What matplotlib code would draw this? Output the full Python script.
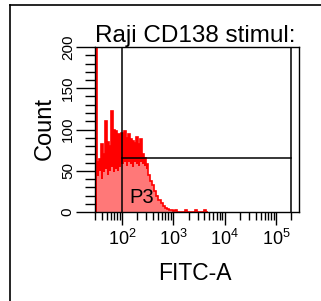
import numpy as np
import matplotlib
matplotlib.use("Agg")
import matplotlib.pyplot as plt
from matplotlib.ticker import FixedLocator, LogLocator, NullFormatter, MultipleLocator
from matplotlib.lines import Line2D

plt.rcParams['font.family'] = ['Liberation Sans', 'DejaVu Sans']
plt.rcParams['mathtext.fontset'] = 'custom'
plt.rcParams['mathtext.rm'] = 'Liberation Sans'
plt.rcParams['mathtext.it'] = 'Liberation Sans'

# ---- data ----
title = "Raji CD138 stimul:"
x_label = "FITC-A"
y_label = "Count"
gate_name = "P3"
gate_lo = 100.0
gate_hi = 2.0e5
gate_level = 65
y_ticks = [0, 50, 100, 150, 200]
x_major = [1e2, 1e3, 1e4, 1e5]
x_major_labels = [r"$\mathregular{10^{2}}$", r"$\mathregular{10^{3}}$",
                  r"$\mathregular{10^{4}}$", r"$\mathregular{10^{5}}$"]
log_start = 1.47
log_step = 0.04
counts = [230, 61, 64, 82, 70, 110, 85, 80, 122, 100,
          98, 94, 95, 96, 98, 90, 94, 88, 86, 84,
          91, 82, 88, 70, 66, 58, 45, 38, 33, 25,
          20, 14, 11, 7, 5, 4, 2, 2, 1, 2,
          0, 0, 0, 0, 2, 0, 0, 0, 0, 2,
          0, 0, 0, 2, 0]
shade = [0, 44, 50, 40, 48, 52, 45, 50, 55, 48,
         52, 50, 55, 58, 60, 56, 60, 58, 55, 60,
         58, 56, 60, 58, 56, 52, 300, 300, 300, 300,
         300, 300, 300, 300, 300, 300, 300, 300, 300, 300,
         300, 300, 300, 300, 300, 300, 300, 300, 300, 300,
         300, 300, 300, 300, 300]

counts = np.array(counts, dtype=float)
shade = np.array(shade, dtype=float)
n = len(counts)
edges = 10 ** (log_start + log_step * np.arange(n + 1))

W, H = 321, 301
fig = plt.figure(figsize=(W / 100, H / 100), dpi=100)
ax = fig.add_axes([95 / W, 1 - 212 / H, 204 / W, 165 / H])

# histogram: pink body, red upper part, red outline
xs = np.repeat(edges, 2)[1:-1]
ys = np.repeat(counts, 2)
sh = np.repeat(np.minimum(shade, counts), 2)
ax.fill_between(xs, 0, ys, color="#ff7878", lw=0)
ax.fill_between(xs, sh, ys, color="#ff0000", lw=0)
ax.stairs(counts, edges, color="#ff0000", lw=1.2)

ax.set_xscale("log")
ax.set_xlim(29.8, 2.8e5)
ax.set_ylim(0, 200)

# gate
ax.axvline(gate_lo, color="black", lw=1.1)
ax.axvline(gate_hi, color="black", lw=1.1)
ax.plot([gate_lo, gate_hi], [gate_level, gate_level], color="black", lw=1.1)
ax.text((129 - 95) / 204, (212 - 203) / 165, gate_name,
        transform=ax.transAxes, fontsize=14.5, ha="left", va="baseline")

for s in ax.spines.values():
    s.set_linewidth(1.0)

ax.yaxis.set_major_locator(FixedLocator(y_ticks))
ax.yaxis.set_minor_locator(MultipleLocator(10))
ax.tick_params(axis="y", which="major", length=13.5, width=1.0, direction="out",
               labelsize=11, pad=1)
ax.tick_params(axis="y", which="minor", length=7, width=1.0, direction="out")
for lab in ax.get_yticklabels():
    lab.set_rotation(90)
    lab.set_va("center")

ax.xaxis.set_major_locator(FixedLocator(x_major))
ax.set_xticklabels(x_major_labels)
ax.xaxis.set_minor_locator(LogLocator(base=10, subs=np.arange(2, 10), numticks=20))
ax.xaxis.set_minor_formatter(NullFormatter())
ax.tick_params(axis="x", which="major", length=9, width=1.0, direction="out",
               labelsize=13, pad=3)
ax.tick_params(axis="x", which="minor", length=6, width=1.0, direction="out")

fig.text(95 / W, 1 - 42 / H, title, fontsize=17.5, ha="left", va="baseline")
fig.text(195 / W, 1 - 273 / H, x_label, fontsize=16.5, ha="center", va="center")
fig.text(45 / W, 1 - 128 / H, y_label, fontsize=17, rotation=90, ha="center", va="center")

# outer panel frame
fig.add_artist(Line2D([9.5 / W, 9.5 / W], [0, 1 - 5 / H], color="black", lw=1.2,
                      transform=fig.transFigure))
fig.add_artist(Line2D([9.5 / W, 1], [1 - 5 / H, 1 - 5 / H], color="black", lw=1.2,
                      transform=fig.transFigure))

fig.savefig("out.png", dpi=100)
